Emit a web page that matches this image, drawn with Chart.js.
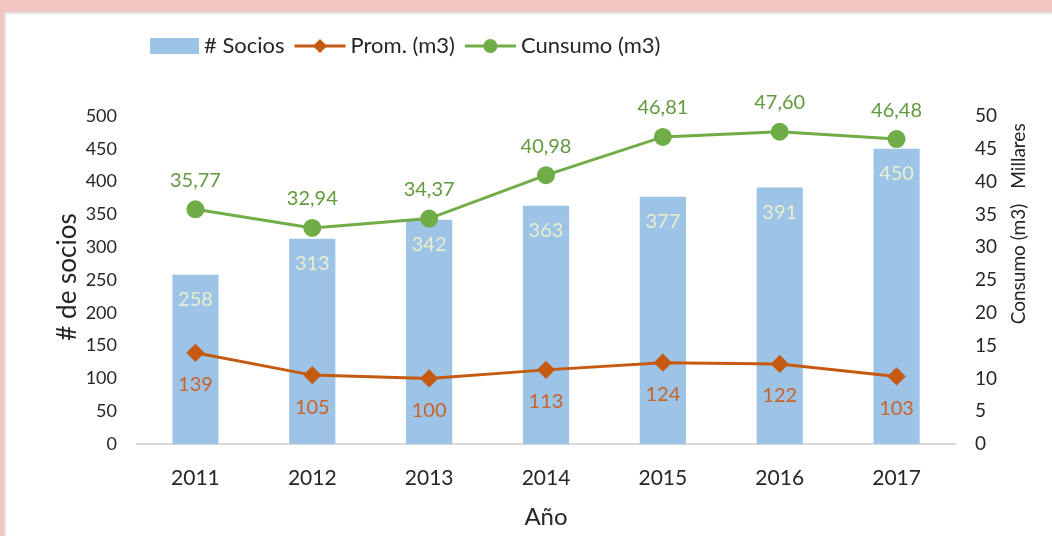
<!DOCTYPE html>
<html>
<head>
<meta charset="utf-8">
<script src="https://cdn.jsdelivr.net/npm/chart.js@4/dist/chart.umd.min.js"></script>
<style>
  html, body { margin: 0; padding: 0; }
  body { width: 1052px; height: 536px; background: #f4c6c3; position: relative; overflow: hidden; }
  #frame { position: absolute; left: 4px; top: 12px; right: 0; bottom: 0; background: #fff; border-left: 2px solid #e4e4e4; border-top: 2px solid #e4e4e4; }
  #chart { position: absolute; left: 0; top: 0; }
</style>
</head>
<body>
<div id="frame"></div>
<canvas id="chart" width="1052" height="536"></canvas>
<script>
const years = ['2011', '2012', '2013', '2014', '2015', '2016', '2017'];
const socios = [258, 313, 342, 363, 377, 391, 450];
const promedio = [139, 105, 100, 113, 124, 122, 103];
const consumo = [35.77, 32.94, 34.37, 40.98, 46.81, 47.60, 46.48]; // en millares

const FONT = 'Lato, sans-serif';
const BLUE = '#9dc3e6';
const ORANGE = '#c55a11';
const GREEN = '#70ad47';

// etiquetas de datos sobre barras y puntos
const valueLabels = {
  id: 'valueLabels',
  afterDatasetsDraw(chart) {
    const ctx = chart.ctx;
    ctx.save();
    ctx.font = '20px ' + FONT;
    ctx.textAlign = 'center';
    ctx.textBaseline = 'middle';
    chart.data.datasets.forEach((ds, i) => {
      const meta = chart.getDatasetMeta(i);
      meta.data.forEach((el, j) => {
        const v = ds.data[j];
        let txt, y;
        if (ds.type === 'bar') {
          txt = String(v); y = el.y + 25; ctx.fillStyle = '#e8eecf';
        } else if (ds.yAxisID === 'y2') {
          txt = v.toFixed(2).replace('.', ','); y = el.y - 29; ctx.fillStyle = '#629a3e';
        } else {
          txt = String(v); y = el.y + 32; ctx.fillStyle = '#c8632a';
        }
        ctx.fillText(txt, el.x, y);
      });
    });
    ctx.restore();
  }
};

// leyenda y títulos girados al estilo Excel
const extras = {
  id: 'extras',
  afterDraw(chart) {
    const ctx = chart.ctx;
    ctx.save();
    ctx.font = '22px ' + FONT;
    ctx.textBaseline = 'middle';
    ctx.textAlign = 'left';
    let x = 150;
    const ly = 46;
    const items = chart.data.datasets.slice().sort((a, b) => b.order - a.order);
    items.forEach(ds => {
      if (ds.type === 'bar') {
        ctx.fillStyle = ds.backgroundColor;
        ctx.fillRect(x, ly - 8, 49, 16);
        x += 54;
      } else {
        ctx.strokeStyle = ds.borderColor;
        ctx.lineWidth = 3;
        ctx.beginPath(); ctx.moveTo(x, ly); ctx.lineTo(x + 51, ly); ctx.stroke();
        ctx.fillStyle = ds.borderColor;
        const cx = x + 25.5;
        if (ds.pointStyle === 'rectRot') {
          ctx.beginPath(); ctx.moveTo(cx, ly - 7); ctx.lineTo(cx + 7, ly); ctx.lineTo(cx, ly + 7); ctx.lineTo(cx - 7, ly); ctx.closePath(); ctx.fill();
        } else {
          ctx.beginPath(); ctx.arc(cx, ly, 7, 0, Math.PI * 2); ctx.fill();
        }
        x += 56;
      }
      ctx.fillStyle = '#262626';
      ctx.fillText(ds.label, x, ly);
      x += ctx.measureText(ds.label).width + 10;
    });

    ctx.fillStyle = '#262626';
    ctx.textAlign = 'center';
    ctx.font = '26px ' + FONT;
    ctx.save(); ctx.translate(68, 277); ctx.rotate(-Math.PI / 2); ctx.fillText('# de socios', 0, 0); ctx.restore();
    ctx.font = '19px ' + FONT;
    ctx.save(); ctx.translate(1019, 264); ctx.rotate(-Math.PI / 2); ctx.fillText('Consumo (m3)', 0, 0); ctx.restore();
    ctx.save(); ctx.translate(1019, 156); ctx.rotate(-Math.PI / 2); ctx.fillText('Millares', 0, 0); ctx.restore();
    ctx.restore();
  }
};

new Chart(document.getElementById('chart'), {
  data: {
    labels: years,
    datasets: [
      {
        type: 'line', label: 'Prom. (m3)', data: promedio, yAxisID: 'y',
        borderColor: ORANGE, backgroundColor: ORANGE, borderWidth: 3,
        pointStyle: 'rectRot', pointRadius: 7, pointHoverRadius: 7, order: 2
      },
      {
        type: 'line', label: 'Cunsumo (m3)', data: consumo, yAxisID: 'y2',
        borderColor: GREEN, backgroundColor: GREEN, borderWidth: 3,
        pointStyle: 'circle', pointRadius: 7.5, pointHoverRadius: 7.5, order: 1
      },
      {
        type: 'bar', label: '# Socios', data: socios, yAxisID: 'y',
        backgroundColor: BLUE, categoryPercentage: 1, barPercentage: 0.395, order: 3
      }
    ]
  },
  options: {
    responsive: false,
    animation: false,
    layout: { padding: { top: 116, left: 0, right: 0, bottom: 0 } },
    plugins: { legend: { display: false }, tooltip: { enabled: false } },
    scales: {
      x: {
        offset: true,
        grid: { display: false, drawTicks: false },
        border: { color: '#d9d9d9', width: 2 },
        ticks: { color: '#262626', font: { family: FONT, size: 21 }, padding: 22 },
        title: { display: true, text: 'Año', color: '#262626', font: { family: FONT, size: 24 }, padding: { top: 8 } },
        afterFit: s => { s.height = 92; }
      },
      y: {
        position: 'left', min: 0, max: 500,
        grid: { display: false, drawTicks: false },
        border: { display: false },
        ticks: { stepSize: 50, color: '#262626', font: { family: FONT, size: 18 }, padding: 20 },
        afterFit: s => { s.width = 137; }
      },
      y2: {
        position: 'right', min: 0, max: 50,
        grid: { display: false, drawTicks: false },
        border: { display: false },
        ticks: { stepSize: 5, color: '#262626', font: { family: FONT, size: 19 }, padding: 20 },
        afterFit: s => { s.width = 97; }
      }
    }
  },
  plugins: [valueLabels, extras]
});
</script>
</body>
</html>
